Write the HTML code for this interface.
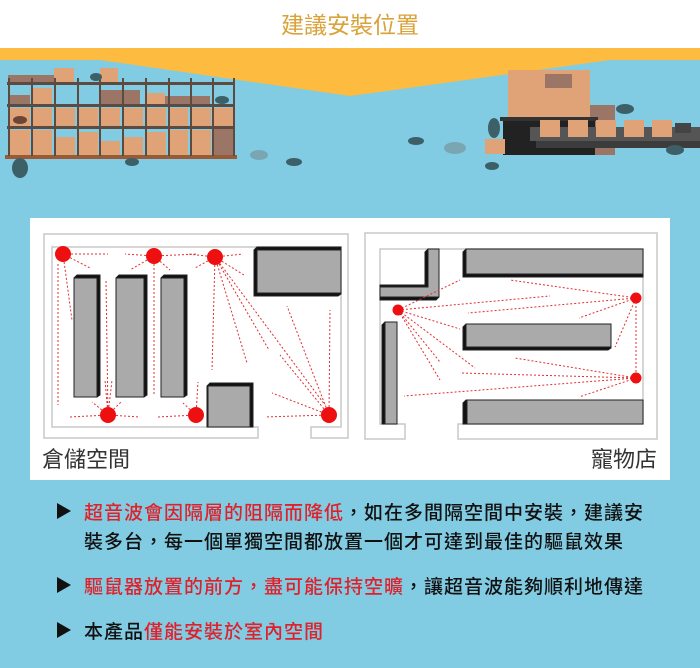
<!DOCTYPE html>
<html><head><meta charset="utf-8"><style>
body{margin:0;width:700px;height:668px;overflow:hidden;background:#82cce3;font-family:"Liberation Sans","Noto Sans CJK TC",sans-serif;}
.t{position:absolute;font-size:19px;color:#111;white-space:nowrap;letter-spacing:1px;font-weight:500}
.r{color:#e0202a}
.tri{position:absolute;left:57px;width:0;height:0;border-top:8px solid transparent;border-bottom:8px solid transparent;border-left:14px solid #111}
</style></head><body>
<svg width="700" height="668" style="position:absolute;left:0;top:0">
<rect x="0" y="0" width="700" height="48" fill="#fff"/>
<polygon points="0,48 700,48 700,60 610,60 350,96 100,60 0,60" fill="#fdbb3f"/>
<text x="350" y="33" text-anchor="middle" font-size="23" fill="#d9a23a" font-family="Liberation Sans,Noto Sans CJK TC,sans-serif">建議安裝位置</text>
<!-- left shelf -->
<g>
<rect x="8" y="75" width="48" height="8" fill="#9b7565"/>
<rect x="54" y="68" width="20" height="15" fill="#e0a377"/>
<rect x="100" y="68" width="18" height="15" fill="#e0a377"/>
<rect x="10" y="95" width="20" height="10" fill="#9b7565"/>
<rect x="32" y="88" width="20" height="17" fill="#e0a377"/>
<rect x="100" y="90" width="40" height="15" fill="#9b7565"/>
<rect x="145" y="93" width="20" height="12" fill="#e0a377"/>
<rect x="165" y="96" width="45" height="9" fill="#9b7565"/>
<g fill="#e0a377">
<rect x="10" y="108" width="20" height="18"/><rect x="32" y="108" width="20" height="18"/><rect x="55" y="108" width="20" height="18"/><rect x="78" y="108" width="20" height="18"/><rect x="100" y="108" width="20" height="18"/><rect x="123" y="108" width="20" height="18"/><rect x="146" y="108" width="20" height="18"/><rect x="168" y="108" width="20" height="18"/><rect x="191" y="108" width="20" height="18"/><rect x="213" y="108" width="20" height="18"/>
<rect x="10" y="130" width="20" height="26"/><rect x="32" y="130" width="20" height="26"/><rect x="55" y="137" width="20" height="19"/><rect x="78" y="132" width="20" height="24"/><rect x="100" y="141" width="20" height="15"/><rect x="123" y="137" width="20" height="19"/><rect x="146" y="132" width="20" height="24"/><rect x="168" y="130" width="20" height="26"/><rect x="191" y="130" width="20" height="26"/>
</g>
<rect x="213" y="128" width="20" height="28" fill="#9b7565"/>
<g fill="#5d4a40">
<rect x="7" y="82" width="228" height="3"/><rect x="7" y="104" width="228" height="3"/><rect x="7" y="126" width="228" height="3"/><rect x="5" y="155" width="232" height="4" fill="#9a5a35"/>
<rect x="8" y="78" width="2" height="78"/><rect x="31" y="78" width="2" height="78"/><rect x="54" y="78" width="2" height="78"/><rect x="77" y="78" width="2" height="78"/><rect x="99" y="78" width="2" height="78"/><rect x="122" y="78" width="2" height="78"/><rect x="145" y="78" width="2" height="78"/><rect x="168" y="78" width="2" height="78"/><rect x="190" y="78" width="2" height="78"/><rect x="212" y="78" width="2" height="78"/><rect x="233" y="78" width="2" height="78"/>
</g>
</g>
<!-- right warehouse -->
<rect x="508" y="70" width="82" height="48" fill="#e0a377"/>
<rect x="545" y="74" width="27" height="14" fill="#9b7565"/>
<rect x="590" y="105" width="25" height="50" fill="#9b7565"/>
<rect x="500" y="117" width="98" height="4" fill="#333"/>
<rect x="503" y="121" width="92" height="34" fill="#222"/>
<rect x="530" y="127" width="170" height="14" fill="#555"/>
<rect x="536" y="141" width="164" height="7" fill="#3c3c3c"/>
<g fill="#e0a377"><rect x="540" y="120" width="20" height="17"/><rect x="568" y="120" width="20" height="17"/><rect x="596" y="120" width="20" height="17"/><rect x="624" y="120" width="20" height="17"/><rect x="652" y="120" width="20" height="17"/><rect x="485" y="139" width="20" height="15"/></g>
<rect x="675" y="123" width="16" height="10" fill="#444"/>
<!-- rats -->
<g fill="#3d5f68">
<ellipse cx="20" cy="168" rx="8" ry="10"/><ellipse cx="294" cy="162" rx="8" ry="4"/><ellipse cx="132" cy="162" rx="7" ry="4"/><ellipse cx="416" cy="141" rx="8" ry="4"/><ellipse cx="492" cy="166" rx="7" ry="4"/><ellipse cx="494" cy="128" rx="6" ry="10"/><ellipse cx="625" cy="109" rx="9" ry="5"/><ellipse cx="675" cy="150" rx="9" ry="5"/><ellipse cx="96" cy="77" rx="6" ry="4"/><ellipse cx="222" cy="100" rx="7" ry="4"/>
</g>
<ellipse cx="20" cy="120" rx="7" ry="4" fill="#6b4535"/>
<ellipse cx="259" cy="155" rx="9" ry="5" fill="#7aa6b3"/><ellipse cx="455" cy="148" rx="11" ry="6" fill="#7aa6b3"/>
<!-- panel -->
<rect x="30" y="218" width="640" height="262" fill="#fff"/>
<g fill="none" stroke="#c8c8c8" stroke-width="1.5">
<path d="M258,438 L44,438 L44,234 L348,234 L348,438 L311,438 L311,427 L341,427 L341,247 L52,247 L52,427 L258,427 Z"/>
<path d="M405,439 L365,439 L365,233 L657,233 L657,439 L458,439 L458,424 L643,424 L643,249 L380,249 L380,424 L405,424 Z"/>
</g>
<g fill="#aaa" stroke="#222" stroke-width="1">
<polygon points="74,278 77,275 100,275 100,395 97,397 74,397" fill="#111"/><rect x="74" y="278" width="23" height="119"/>
<polygon points="116,278 119,275 147,275 147,395 144,397 116,397" fill="#111"/><rect x="116" y="278" width="28" height="119"/>
<polygon points="161,278 164,275 187,275 187,395 184,397 161,397" fill="#111"/><rect x="161" y="278" width="23" height="119"/>
<polygon points="254,250 257,247 341,247 341,294 338,296 254,296" fill="#111"/><rect x="257" y="250" width="84" height="43"/>
<polygon points="207,386 210,383 253,383 253,427 207,427" fill="#111"/><rect x="208" y="386" width="42" height="41"/>
</g>
<g fill="#aaa" stroke="#222" stroke-width="1">
<polygon points="463,252 466,249 643,249 643,277 463,277" fill="#111"/><rect x="466" y="249" width="177" height="25"/>
<polygon points="463,327 466,324 611,324 611,348 608,350 463,350" fill="#111"/><rect x="466" y="324" width="145" height="23"/>
<polygon points="463,403 466,400 643,400 643,424 463,424" fill="#111"/><rect x="467" y="400" width="176" height="24"/>
<polygon points="382,325 385,322 397,322 397,424 382,424" fill="#111"/><rect x="385" y="322" width="12" height="102"/>
<polygon points="425,252 428,249 439,249 439,297 436,300 380,300 380,285 425,285" fill="#111"/>
<polygon points="428,249 439,249 439,297 380,297 380,287 428,287" fill="#aaa"/>
</g>
<g stroke="#e03030" stroke-width="1" stroke-dasharray="2,2" fill="none">
<path d="M63,254 L108,254 M63,254 L90,268 M63,254 L72,320 M58,264 L58,405"/>
<path d="M154,256 L125,254 M154,256 L198,254 M154,256 L130,270 M154,256 L170,270 M154,256 L154,395"/>
<path d="M215,257 L188,254 M215,257 L243,254 M215,257 L195,268 M215,257 L244,275 M215,257 L212,370 M215,257 L247,363 M215,257 L269,350 M215,257 L325,405"/>
<path d="M108,415 L70,417 M108,415 L140,417 M108,415 L92,402 M108,415 L112,380 M108,415 L105,380 M108,415 L121,402 M108,415 L106,280"/>
<path d="M196,415 L158,417 M196,415 L183,403 M196,415 L198,382"/>
<path d="M329,415 L265,417 M329,415 L272,393 M329,415 L280,355 M329,415 L287,306 M329,415 L330,310"/>
<path d="M398,310 L550,296 M398,310 L460,280 M398,310 L460,329 M398,310 L475,368 M398,310 L440,362 M398,310 L440,380"/>
<path d="M636,298 L510,280 M636,298 L468,313 M636,298 L579,318 M636,298 L615,347 M636,298 L636,378"/>
<path d="M636,378 L515,358 M636,378 L460,373 M636,378 L404,396 M636,378 L579,397"/>
</g>
<g fill="#ee1010">
<circle cx="63" cy="254" r="8"/><circle cx="154" cy="256" r="8"/><circle cx="215" cy="257" r="8"/><circle cx="108" cy="415" r="8"/><circle cx="196" cy="415" r="8"/><circle cx="329" cy="415" r="8"/>
<circle cx="398" cy="310" r="5.5"/><circle cx="636" cy="298" r="5.5"/><circle cx="636" cy="378" r="5.5"/>
</g>
<text x="42" y="467" font-size="22" fill="#333" font-family="Liberation Sans,Noto Sans CJK TC,sans-serif">倉儲空間</text>
<text x="657" y="467" font-size="22" fill="#333" text-anchor="end" font-family="Liberation Sans,Noto Sans CJK TC,sans-serif">寵物店</text>
</svg>
<div class="tri" style="top:503px"></div>
<div class="t" style="left:84px;top:498px"><span class="r">超音波會因隔層的阻隔而降低</span>，如在多間隔空間中安裝，建議安</div>
<div class="t" style="left:84px;top:527px">裝多台，每一個單獨空間都放置一個才可達到最佳的驅鼠效果</div>
<div class="tri" style="top:577px"></div>
<div class="t" style="left:84px;top:572px"><span class="r">驅鼠器放置的前方，盡可能保持空曠</span>，讓超音波能夠順利地傳達</div>
<div class="tri" style="top:622px"></div>
<div class="t" style="left:84px;top:617px">本產品<span class="r">僅能安裝於室內空間</span></div>
</body></html>
